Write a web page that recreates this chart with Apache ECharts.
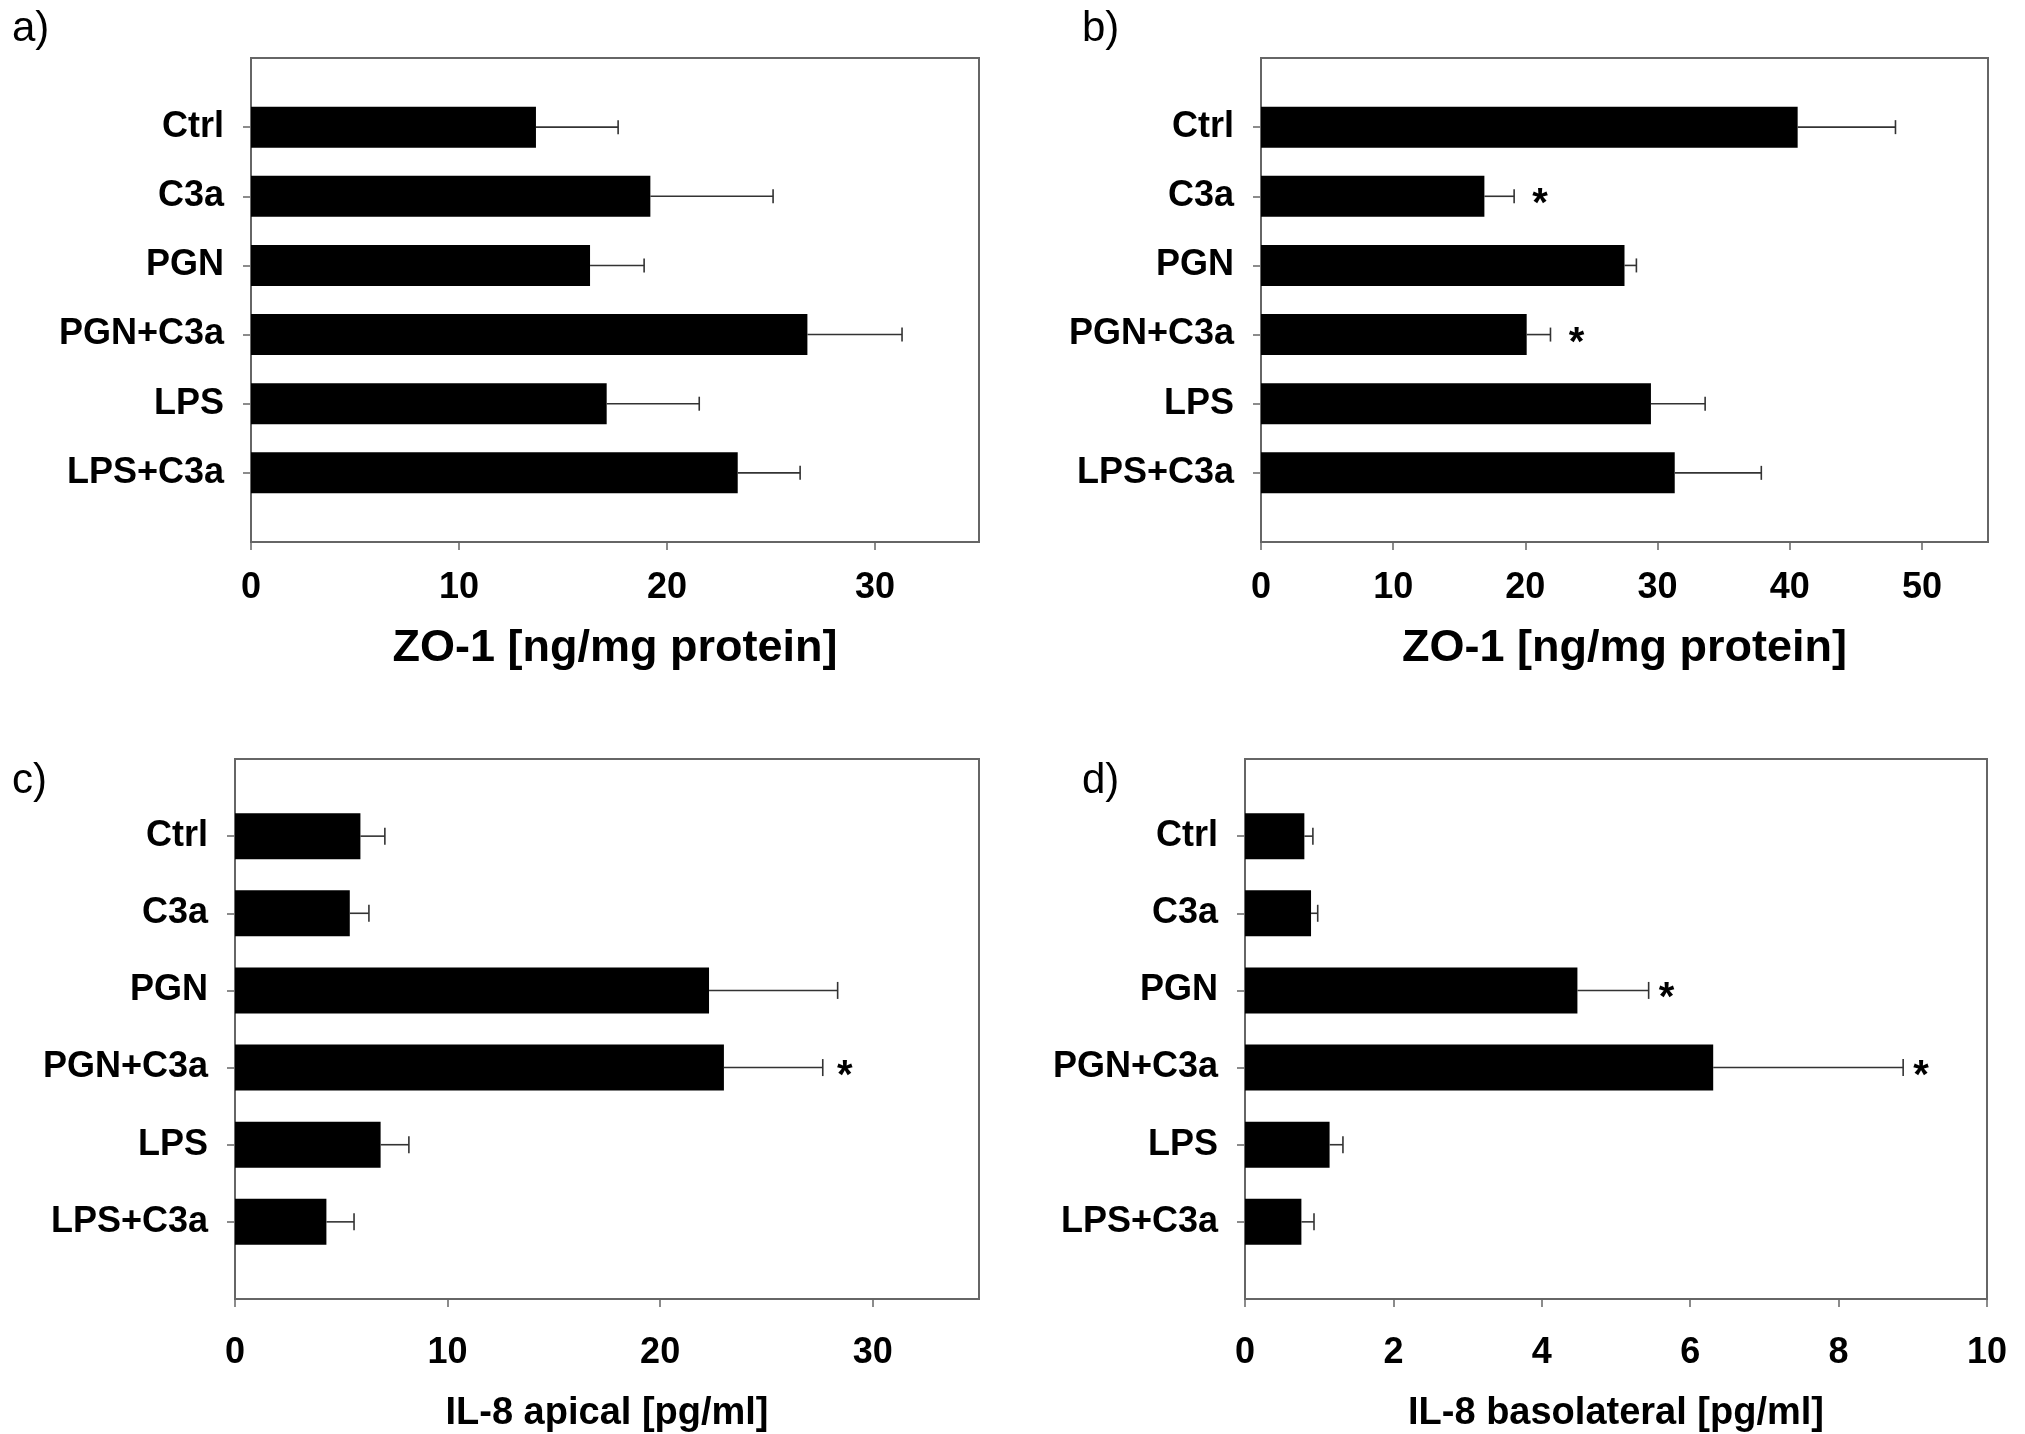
<!DOCTYPE html>
<html>
<head>
<meta charset="utf-8">
<script src="https://cdn.jsdelivr.net/npm/echarts@6/dist/echarts.min.js"></script>
<style>
html,body{margin:0;padding:0;background:#fff;}
#chart{width:2025px;height:1434px;}
</style>
</head>
<body>
<div id="chart"></div>
<script>
// ---- data ----
const categories = ['Ctrl', 'C3a', 'PGN', 'PGN+C3a', 'LPS', 'LPS+C3a'];

const zo1A_mean = [13.7, 19.2, 16.3, 26.75, 17.1, 23.4];
const zo1A_sd   = [3.95, 5.9, 2.6, 4.55, 4.45, 3.0];
const zo1A_sig  = [0, 0, 0, 0, 0, 0];
const ticksA    = [0, 10, 20, 30];

const zo1B_mean = [40.6, 16.9, 27.5, 20.1, 29.5, 31.3];
const zo1B_sd   = [7.4, 2.25, 0.9, 1.8, 4.1, 6.55];
const zo1B_sig  = [0, 1, 0, 1, 0, 0];
const ticksB    = [0, 10, 20, 30, 40, 50];

const il8Api_mean = [5.9, 5.4, 22.3, 23.0, 6.85, 4.3];
const il8Api_sd   = [1.15, 0.9, 6.05, 4.65, 1.33, 1.3];
const il8Api_sig  = [0, 0, 0, 1, 0, 0];
const ticksC      = [0, 10, 20, 30];

const il8Bas_mean = [0.80, 0.89, 4.48, 6.31, 1.14, 0.76];
const il8Bas_sd   = [0.115, 0.09, 0.96, 2.56, 0.18, 0.17];
const il8Bas_sig  = [0, 0, 1, 1, 0, 0];
const ticksD      = [0, 2, 4, 6, 8, 10];

const panelLetters = ['a)', 'b)', 'c)', 'd)'];
const axisTitles = ['ZO-1 [ng/mg protein]', 'ZO-1 [ng/mg protein]', 'IL-8 apical [pg/ml]', 'IL-8 basolateral [pg/ml]'];
const axisMax = [35, 55, 35, 10];

// ---- layout / style ----
const FONT = '"Liberation Sans", Arial, sans-serif';
const BOX = '#666';
const panels = [
  {mean: zo1A_mean, sd: zo1A_sd, sig: zo1A_sig, ticks: ticksA,
   grid: {left: 251, top: 58, width: 728, height: 484}, barW: 41, cap: 14, starGap: 26,
   nameSize: 45, nameGap: 84, tickMargin: 28, letter: {x: 12, y: 8}},
  {mean: zo1B_mean, sd: zo1B_sd, sig: zo1B_sig, ticks: ticksB,
   grid: {left: 1261, top: 58, width: 727, height: 484}, barW: 41, cap: 14, starGap: 26,
   nameSize: 45, nameGap: 84, tickMargin: 28, letter: {x: 1082, y: 8}},
  {mean: il8Api_mean, sd: il8Api_sd, sig: il8Api_sig, ticks: ticksC,
   grid: {left: 235, top: 759, width: 744, height: 540}, barW: 46, cap: 17, starGap: 22,
   nameSize: 38, nameGap: 96, tickMargin: 36, letter: {x: 12, y: 760}},
  {mean: il8Bas_mean, sd: il8Bas_sd, sig: il8Bas_sig, ticks: ticksD,
   grid: {left: 1245, top: 759, width: 742, height: 540}, barW: 46, cap: 17, starGap: 18,
   nameSize: 38, nameGap: 96, tickMargin: 36, letter: {x: 1082, y: 760}}
];

const yData = [''].concat(categories, ['']);
const nCat = yData.length;

function errRender(p) {
  return function (params, api) {
    const m = api.value(0), c = api.value(1), s = api.value(2), sig = api.value(3);
    const a = api.coord([m, c]);
    const b = api.coord([m + s, c]);
    const h = p.cap / 2;
    const ls = {stroke: '#333', lineWidth: 1.6};
    const children = [
      {type: 'line', shape: {x1: a[0], y1: a[1], x2: b[0], y2: b[1]}, style: ls},
      {type: 'line', shape: {x1: b[0], y1: b[1] - h, x2: b[0], y2: b[1] + h}, style: ls}
    ];
    if (sig) {
      children.push({type: 'text', x: b[0] + p.starGap, y: b[1] + 9,
        style: {text: '*', fontSize: 40, fontWeight: 'bold', fontFamily: FONT, fill: '#000',
                align: 'center', verticalAlign: 'middle'}});
    }
    return {type: 'group', children: children};
  };
}

const option = {
  backgroundColor: '#fff',
  animation: false,
  grid: [], xAxis: [], yAxis: [], series: [], graphic: []
};

panels.forEach(function (p, k) {
  option.grid.push(Object.assign({show: true, borderColor: BOX, borderWidth: 2, backgroundColor: '#fff'}, p.grid));
  option.xAxis.push({
    gridIndex: k, type: 'value', min: 0, max: axisMax[k], interval: p.ticks[1] - p.ticks[0],
    name: axisTitles[k], nameLocation: 'middle', nameGap: p.nameGap,
    nameTextStyle: {fontFamily: FONT, fontWeight: 'bold', fontSize: p.nameSize, color: '#000'},
    axisLine: {show: true, lineStyle: {color: BOX, width: 2}},
    axisTick: {show: true, length: 8, customValues: p.ticks, lineStyle: {color: BOX, width: 1.5}},
    axisLabel: {customValues: p.ticks, fontFamily: FONT, fontWeight: 'bold', fontSize: 36, color: '#000', margin: p.tickMargin},
    splitLine: {show: false}
  });
  option.yAxis.push({
    gridIndex: k, type: 'category', inverse: true, boundaryGap: false, data: yData,
    axisLine: {show: true, lineStyle: {color: BOX, width: 2}},
    axisTick: {show: true, length: 8, interval: function (i) { return i > 0 && i < nCat - 1; },
               lineStyle: {color: BOX, width: 1.5}},
    axisLabel: {interval: 0, fontFamily: FONT, fontWeight: 'bold', fontSize: 36, color: '#000', margin: 27},
    splitLine: {show: false}
  });
  option.series.push({
    type: 'bar', xAxisIndex: k, yAxisIndex: k, barWidth: p.barW,
    itemStyle: {color: '#000'},
    encode: {x: 0, y: 1},
    data: p.mean.map(function (v, i) { return [v, i + 1]; })
  });
  option.series.push({
    type: 'custom', xAxisIndex: k, yAxisIndex: k, z: 5,
    encode: {x: 0, y: 1},
    renderItem: errRender(p),
    data: p.mean.map(function (v, i) { return [v, i + 1, p.sd[i], p.sig[i]]; })
  });
  option.graphic.push({
    type: 'text', left: p.letter.x, top: p.letter.y,
    style: {text: panelLetters[k], fontFamily: FONT, fontSize: 42, fill: '#000'}
  });
});

const chart = echarts.init(document.getElementById('chart'), null, {renderer: 'canvas'});
chart.setOption(option);
</script>
</body>
</html>
